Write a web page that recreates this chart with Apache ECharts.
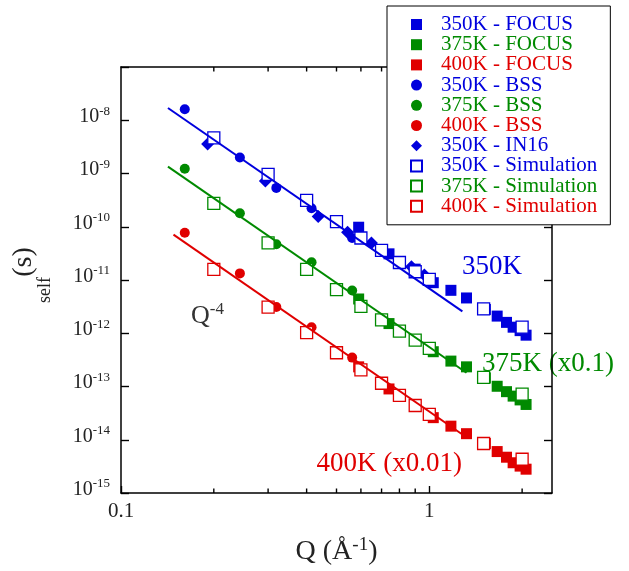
<!DOCTYPE html>
<html>
<head>
<meta charset="utf-8">
<script src="https://cdn.jsdelivr.net/npm/echarts@6/dist/echarts.min.js"></script>
<style>
  html, body { margin: 0; padding: 0; background: #fff; }
  #chart { width: 629px; height: 571px; }
</style>
</head>
<body>
<div id="chart"></div>
<script>
// Self relaxation time vs. momentum transfer, three temperatures
const BLUE = '#0000dd', GREEN = '#008a00', RED = '#e00000';
const FONT = '"Liberation Serif", "Times New Roman", serif';

// FOCUS
const focusQ   = [0.59, 0.74, 0.90, 1.03, 1.175, 1.32, 1.52, 1.66, 1.78, 1.87, 1.97, 2.06];
const focus350 = [9.8e-11, 3.1e-11, 1.6e-11, 8.9e-12, 6.4e-12, 4.6e-12, 2.8e-12, 2.1e-12, 1.6e-12, 1.3e-12, 1.12e-12, 9.2e-13];
const focus375 = [4.4e-12, 1.52e-12, 7.3e-13, 4.5e-13, 3.0e-13, 2.34e-13, 1.45e-13, 1.01e-13, 8.0e-14, 6.6e-14, 5.6e-14, 4.6e-14];
const focus400 = [2.34e-13, 9.0e-14, 4.3e-14, 2.6e-14, 1.8e-14, 1.3e-14, 8.5e-15, 6.0e-15, 4.7e-15, 3.7e-15, 3.2e-15, 2.8e-15];

// BSS
const bssQ   = [0.161, 0.243, 0.319, 0.415, 0.562];
const bss350 = [1.61e-8, 2.0e-9, 5.37e-10, 2.22e-10, 6.15e-11];
const bss375 = [1.23e-9, 1.79e-10, 4.68e-11, 2.16e-11, 6.35e-12];
const bss400 = [7.7e-11, 1.33e-11, 3.1e-12, 1.30e-12, 3.49e-13];

// IN16
const in16Q   = [0.191, 0.294, 0.436, 0.543, 0.649, 0.875, 0.964];
const in16350 = [3.6e-9, 7.2e-10, 1.55e-10, 7.9e-11, 4.97e-11, 1.77e-11, 1.24e-11];

// Simulation
const simQ   = [0.2, 0.3, 0.4, 0.5, 0.6, 0.7, 0.8, 0.9, 1.0, 1.5, 2.0];
const sim350 = [4.66e-9, 9.66e-10, 3.13e-10, 1.25e-10, 6.15e-11, 3.61e-11, 2.13e-11, 1.43e-11, 1.03e-11, 2.88e-12, 1.30e-12];
const sim375 = [2.75e-10, 4.97e-11, 1.58e-11, 6.6e-12, 3.2e-12, 1.78e-12, 1.10e-12, 7.4e-13, 5.2e-13, 1.48e-13, 7.2e-14];
const sim400 = [1.58e-11, 3.1e-12, 1.03e-12, 4.3e-13, 2.06e-13, 1.15e-13, 6.8e-14, 4.4e-14, 3.0e-14, 8.5e-15, 4.3e-15];

// Q^-4 guide lines (end points)
const fitQ350 = [0.142, 1.28], fit350 = [1.70e-8, 2.58e-12];
const fitQ375 = [0.142, 1.32], fit375 = [1.35e-9, 1.81e-13];
const fitQ400 = [0.148, 1.33], fit400 = [7.1e-11, 1.08e-14];

// axis ticks
const xMinorTicks = [0.2, 0.3, 0.4, 0.5, 0.6, 0.7, 0.8, 0.9, 2];
const xTopTicks   = [0.2, 0.3, 0.4, 0.5, 0.6, 0.7, 0.8, 0.9, 1, 2];
const xLabels     = [0.1, 1];

const zip = (xs, ys) => xs.map((x, i) => [x, ys[i]]);

const chart = echarts.init(document.getElementById('chart'), null, { renderer: 'canvas' });

const X_MIN = 0.1, X_MAX = 2.5, Y_MIN = 1e-15, Y_MAX = 1e-7;

function scatter(name, q, t, symbol, size, color, hollow, z) {
  return {
    name, type: 'scatter', data: zip(q, t), symbol, symbolSize: size, z,
    itemStyle: hollow
      ? { color: '#fff', borderColor: color, borderWidth: 1.3, opacity: 1 }
      : { color: color, opacity: 1 },
    emphasis: { disabled: true }
  };
}
function guide(q, t, color) {
  return {
    type: 'line', data: zip(q, t), symbol: 'none', z: 6, silent: true,
    lineStyle: { color, width: 2 }
  };
}
// short inward tick marks on the bottom (dir=-1) or top (dir=+1) frame edge
function tickMarks(qs, edgeValue, dir) {
  return {
    type: 'scatter', silent: true, z: 5, clip: false,
    data: qs.map(q => [q, edgeValue]),
    symbol: 'rect', symbolSize: [1.4, 4.5], symbolOffset: [0, dir * 2.25],
    itemStyle: { color: '#000', opacity: 1 },
    emphasis: { disabled: true }
  };
}

const legendNames = [
  ['350K - FOCUS', BLUE], ['375K - FOCUS', GREEN], ['400K - FOCUS', RED],
  ['350K - BSS', BLUE], ['375K - BSS', GREEN], ['400K - BSS', RED],
  ['350K - IN16', BLUE],
  ['350K - Simulation', BLUE], ['375K - Simulation', GREEN], ['400K - Simulation', RED]
];

const axisLineStyle = { color: '#000', width: 1.5 };
const tickLine = { color: '#000', width: 1.4 };

const option = {
  animation: false,
  backgroundColor: '#fff',
  grid: { left: 121, top: 67, width: 431, height: 430, containLabel: false },
  legend: {
    orient: 'vertical', left: 387, top: 6,
    backgroundColor: '#fff', borderColor: '#000', borderWidth: 1,
    padding: [8, 13, 8, 23], itemGap: -0.8, itemWidth: 11, itemHeight: 11,
    selectedMode: false, z: 10,
    textStyle: { fontFamily: FONT, fontSize: 21, lineHeight: 20, padding: [0, 0, 0, 14] },
    data: legendNames.map(([n, c]) => ({ name: n, textStyle: { color: c } }))
  },
  xAxis: [
    {
      type: 'log', logBase: 10, min: X_MIN, max: X_MAX, position: 'bottom',
      axisLine: { onZero: false, lineStyle: axisLineStyle },
      axisTick: { inside: true, length: 7, lineStyle: tickLine },
      axisLabel: {
        fontFamily: FONT, fontSize: 21, color: '#222', margin: 8,
        showMaxLabel: false,
        formatter: v => (xLabels.some(l => Math.abs(l - v) < 1e-9) ? String(v) : '')
      },
      splitLine: { show: false },
      name: '{a|Q (Å}{s|-1}{a|)}', nameLocation: 'middle', nameGap: 43,
      nameTextStyle: {
        rich: {
          a: { fontFamily: FONT, fontSize: 28, lineHeight: 32, color: '#222' },
          s: { fontFamily: FONT, fontSize: 19, lineHeight: 19, color: '#222', verticalAlign: 'top' }
        }
      }
    },
    {
      type: 'log', logBase: 10, min: X_MIN, max: X_MAX, position: 'top',
      axisLine: { onZero: false, lineStyle: axisLineStyle },
      axisTick: { show: false }, axisLabel: { show: false }, splitLine: { show: false }
    }
  ],
  yAxis: [
    {
      type: 'log', logBase: 10, min: Y_MIN, max: Y_MAX, position: 'left',
      axisLine: { onZero: false, lineStyle: axisLineStyle },
      axisTick: { inside: true, length: 8, lineStyle: tickLine },
      axisLabel: {
        margin: 11, color: '#222', padding: [0, 0, 7, 0],
        formatter: v => {
          const e = Math.round(Math.log10(v));
          return e > -8 ? '' : '{b|10}{s|' + e + '}';
        },
        rich: {
          b: { fontFamily: FONT, fontSize: 20, lineHeight: 24, color: '#222' },
          s: { fontFamily: FONT, fontSize: 13, lineHeight: 13, color: '#222', verticalAlign: 'top' }
        }
      },
      splitLine: { show: false }
    },
    {
      type: 'log', logBase: 10, min: Y_MIN, max: Y_MAX, position: 'right',
      axisLine: { onZero: false, lineStyle: axisLineStyle },
      axisTick: { inside: true, length: 8, lineStyle: tickLine },
      axisLabel: { show: false }, splitLine: { show: false }
    }
  ],
  series: [
    tickMarks(xMinorTicks, Y_MIN, -1),
    tickMarks(xTopTicks, Y_MAX, 1),
    scatter('350K - FOCUS', focusQ, focus350, 'rect', 11, BLUE, false, 3),
    scatter('375K - FOCUS', focusQ, focus375, 'rect', 11, GREEN, false, 3),
    scatter('400K - FOCUS', focusQ, focus400, 'rect', 11, RED, false, 3),
    scatter('350K - BSS', bssQ, bss350, 'circle', 10, BLUE, false, 3),
    scatter('375K - BSS', bssQ, bss375, 'circle', 10, GREEN, false, 3),
    scatter('400K - BSS', bssQ, bss400, 'circle', 10, RED, false, 3),
    scatter('350K - IN16', in16Q, in16350, 'diamond', 13, BLUE, false, 3),
    scatter('350K - Simulation', simQ, sim350, 'rect', 12, BLUE, true, 4),
    scatter('375K - Simulation', simQ, sim375, 'rect', 12, GREEN, true, 4),
    scatter('400K - Simulation', simQ, sim400, 'rect', 12, RED, true, 4),
    guide(fitQ350, fit350, BLUE),
    guide(fitQ375, fit375, GREEN),
    guide(fitQ400, fit400, RED)
  ],
  graphic: [
    // y-axis title
    { type: 'text', x: 24, y: 262, rotation: Math.PI / 2, silent: true,
      style: { text: '(s)', font: '28px ' + FONT, fill: '#222', textAlign: 'center', textVerticalAlign: 'middle' } },
    { type: 'text', x: 45, y: 290, rotation: Math.PI / 2, silent: true,
      style: { text: 'self', font: '18px ' + FONT, fill: '#222', textAlign: 'center', textVerticalAlign: 'middle' } },
    // curve annotations
    { type: 'text', x: 462, y: 267, silent: true,
      style: { text: '350K', font: '27px ' + FONT, fill: BLUE, textAlign: 'left', textVerticalAlign: 'middle' } },
    { type: 'text', x: 482, y: 364, silent: true,
      style: { text: '375K (x0.1)', font: '27px ' + FONT, fill: GREEN, textAlign: 'left', textVerticalAlign: 'middle' } },
    { type: 'text', x: 462, y: 464, silent: true,
      style: { text: '400K (x0.01)', font: '27px ' + FONT, fill: RED, textAlign: 'right', textVerticalAlign: 'middle' } },
    { type: 'text', x: 191, y: 316, silent: true,
      style: {
        text: '{q|Q}{s|-4}', textAlign: 'left', textVerticalAlign: 'middle',
        rich: {
          q: { fontFamily: FONT, fontSize: 26, lineHeight: 30, fill: '#333' },
          s: { fontFamily: FONT, fontSize: 17, lineHeight: 17, fill: '#333', verticalAlign: 'top' }
        }
      } }
  ]
};

chart.setOption(option);
</script>
</body>
</html>
